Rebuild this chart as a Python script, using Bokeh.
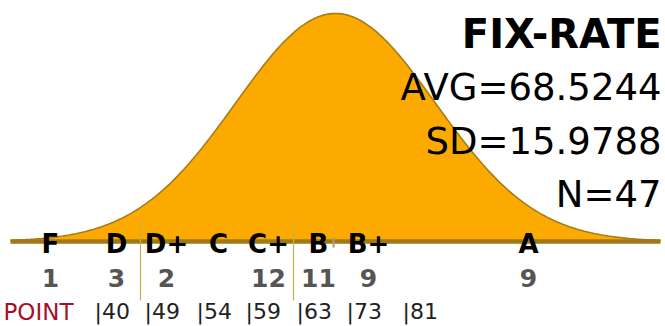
import numpy as np
from bokeh.plotting import figure
from bokeh.models import Range1d
from bokeh.core.properties import value
from bokeh.embed import file_html
from bokeh.resources import INLINE

# ---- data ----
title = "FIX-RATE"
avg = 68.5244
sd = 15.9788
n = 47
grades = ["F", "D", "D+", "C", "C+", "B", "B+", "A"]
counts = [1, 3, 2, 0, 12, 11, 9, 9]
cutoffs = [40, 49, 54, 59, 63, 73, 81]

# ---- layout (pixel positions of annotations) ----
W, H = 665, 326
k = 100.0 / sd                      # px per score point
x_lo = avg - 3.35 * sd
x_hi = x_lo + W / k
peak = n / (sd * np.sqrt(2 * np.pi))
base_px, peak_px = 241.0, 13.0
ky = (base_px - peak_px) / peak     # px per density unit
y_lo = -(H - base_px) / ky
y_hi = base_px / ky

def px(x):
    return x_lo + x / k

def py(y):
    return (base_px - y) / ky

grade_px = [50, 116, 166, 218, 268, 318, 368, 528]
cut_px = [94, 144, 196, 245, 296, 346, 402]
FONT = value("DejaVu Sans")

p = figure(width=W, height=H, output_backend="svg", toolbar_location=None,
           x_range=Range1d(x_lo, x_hi), y_range=Range1d(y_lo, y_hi),
           min_border=0, x_axis_location=None, y_axis_location=None,
           outline_line_color=None, background_fill_color="white",
           border_fill_color="white")
p.xgrid.visible = False
p.ygrid.visible = False

# bell curve
xs = np.linspace(avg - 3.25 * sd, avg + 3.25 * sd, 300)
ys = n / (sd * np.sqrt(2 * np.pi)) * np.exp(-0.5 * ((xs - avg) / sd) ** 2)
p.patch(np.concatenate([xs, [xs[-1], xs[0]]]), np.concatenate([ys, [0, 0]]),
        fill_color="#FDAA00", line_color=None)
p.line(xs, ys, line_color="#A87C14", line_width=1.6)
p.line([xs[0], xs[-1]], [0, 0], line_color="#A07818", line_width=4.5)

# markers
for xv in [140, 293]:
    p.line([px(xv), px(xv)], [py(220), py(300)], line_color="#C8B048", line_width=1.2)
p.line([px(333), px(333)], [py(237), py(247)], line_color="#A8A070", line_width=2)

# grade letters
p.text(x=[px(v) for v in grade_px], y=[py(243)] * len(grades), text=grades,
       text_font=FONT, text_font_style="bold", text_font_size="26px",
       text_color="black", text_align="center", text_baseline="middle")
# counts
p.text(x=[px(v) for v in grade_px], y=[py(277)] * len(counts),
       text=[str(c) if c else "" for c in counts],
       text_font=FONT, text_font_style="bold", text_font_size="25px",
       text_color="#555555", text_align="center", text_baseline="middle")
# POINT row
p.text(x=[px(3)], y=[py(311)], text=["POINT"], text_font=FONT,
       text_font_size="23px", text_color="#A8102A",
       text_align="left", text_baseline="middle")
p.text(x=[px(v) for v in cut_px], y=[py(311)] * len(cutoffs),
       text=["|" + str(c) for c in cutoffs], text_font=FONT,
       text_font_size="22px", text_color="#222222",
       text_align="left", text_baseline="middle")

# stats
p.text(x=[px(661)], y=[py(33)], text=[title], text_font=FONT,
       text_font_style="bold", text_font_size="40px", text_color="black",
       text_align="right", text_baseline="middle")
stats = ["AVG=%s" % avg, "SD=%s" % sd, "N=%d" % n]
p.text(x=[px(661)] * 3, y=[py(87), py(141), py(194)], text=stats,
       text_font=FONT, text_font_size="37px", text_color="black",
       text_align="right", text_baseline="middle")

open("out.html", "w").write(file_html(p, INLINE))
